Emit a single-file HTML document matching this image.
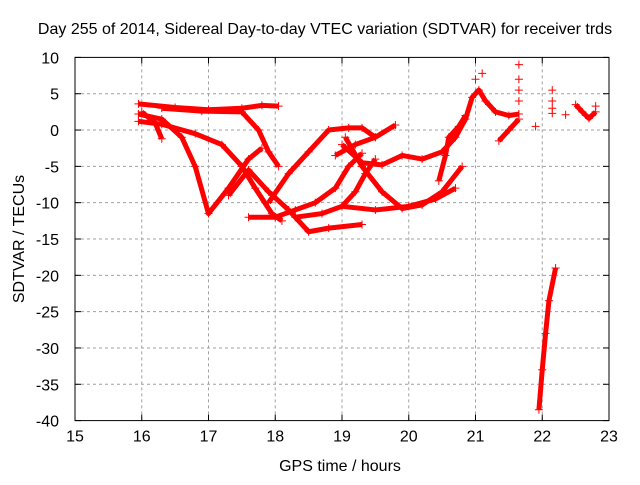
<!DOCTYPE html>
<html><head><meta charset="utf-8"><style>
body{margin:0;background:#fff}
svg text{font-family:"Liberation Sans",sans-serif;font-size:16px;fill:#000}
</style></head><body>
<svg id="c" width="640" height="480" xmlns="http://www.w3.org/2000/svg"></svg>
<script>
const xTicks=[15,16,17,18,19,20,21,22,23];
const yTicks=[10,5,0,-5,-10,-15,-20,-25,-30,-35,-40];
const track1=[[15.95,3.6],[16.5,3.1],[17,2.8],[17.5,3],[17.8,3.4],[18.05,3.3]];
const track2=[[15.95,2.2],[16.3,1.5],[16.6,-1],[16.8,-5],[17,-11.5],[17.3,-8],[17.6,-4],[17.8,-2.5]];
const track3=[[15.95,1.2],[16.3,0.8],[16.8,-0.5],[17.2,-2],[17.5,-5],[17.7,-8],[17.95,-11.5],[18.1,-12.5]];
const track4=[[16.3,3],[16.9,2.6],[17.5,2.5],[17.75,0],[17.9,-3],[18.05,-5]];
const track5=[[16,2.5],[16.2,1],[16.3,-1.2]];
const track6=[[17.3,-9],[17.6,-5.5],[17.9,-8.5],[18.2,-11],[18.5,-14],[18.8,-13.5],[19.3,-13]];
const track7=[[17.6,-12],[18,-12],[18.3,-11],[18.6,-10],[18.9,-8],[19.1,-5],[19.3,-3.2]];
const track8=[[17.9,-10],[18.2,-6],[18.5,-3],[18.8,0],[19.1,0.3],[19.3,0.3],[19.5,-1]];
const track9=[[18.3,-12],[18.7,-11.5],[19,-10.5],[19.2,-8.5],[19.35,-6],[19.5,-4]];
const track10=[[18.9,-3.5],[19.2,-2],[19.5,-1],[19.8,0.7]];
const track11=[[19,-2],[19.3,-4.5],[19.6,-4.8],[19.9,-3.5],[20.2,-4],[20.5,-3],[20.7,-1],[20.85,1.5],[20.95,4.5],[21.05,5.5],[21.15,4],[21.3,2.5],[21.5,2],[21.65,2.2]];
const track12=[[19.05,-1],[19.3,-5],[19.6,-8.5],[19.9,-10.8],[20.2,-10.3],[20.5,-8.5],[20.8,-5]];
const track13=[[19,-10.5],[19.5,-11],[20,-10.5],[20.4,-9.5],[20.7,-8]];
const track14=[[20.45,-7],[20.55,-3.5],[20.6,-1],[20.75,0.5],[20.85,2]];
const track15=[[21.35,-1.5],[21.5,0],[21.65,1.5]];
const track16=[[21.95,-38.5],[22,-33],[22.05,-28],[22.1,-23.5],[22.2,-19]];
const track17=[[22.5,3.5],[22.6,2.5],[22.7,1.6],[22.8,2.5]];
const isolated=[[21.65,9],[21.65,7],[21.65,5.5],[21.65,4],[21.9,0.5],[22.15,5.5],[22.15,4],[22.15,3],[22.15,2.3],[22.35,2.1],[22.8,3.3],[21.1,7.8],[21,7]];
const tracks=[track1,track2,track3,track4,track5,track6,track7,track8,track9,track10,track11,track12,track13,track14,track15,track16,track17];

const L=75,R=609,T=57.4,B=420.6;
const X=v=>L+(v-15)/8*(R-L);
const Y=v=>T+(10-v)/50*(B-T);
const svg=document.getElementById('c');
const NS='http://www.w3.org/2000/svg';
function mk(tag,attrs,parent){const e=document.createElementNS(NS,tag);for(const k in attrs)e.setAttribute(k,attrs[k]);(parent||svg).appendChild(e);return e;}

xTicks.forEach(t=>{
  const x=X(t);
  if(t>15&&t<23){const g=mk('line',{x1:x,x2:x,y1:T,y2:B,stroke:'#a0a0a0','stroke-dasharray':'3,3'});
  
  }
  mk('line',{x1:x,x2:x,y1:B,y2:B-6,stroke:'#000'});
  mk('line',{x1:x,x2:x,y1:T,y2:T+6,stroke:'#000'});
  const tx=mk('text',{x:x,y:B+21,'text-anchor':'middle'});tx.textContent=t;
  
  
});
yTicks.forEach(t=>{
  const y=Y(t);
  if(t<10&&t>-40){const g=mk('line',{x1:L,x2:R,y1:y,y2:y,stroke:'#a0a0a0','stroke-dasharray':'3,3'});
  
  }
  mk('line',{x1:L,x2:L+6,y1:y,y2:y,stroke:'#000'});
  mk('line',{x1:R,x2:R-6,y1:y,y2:y,stroke:'#000'});
  const tx=mk('text',{x:L-16,y:y+6,'text-anchor':'end'});tx.textContent=t;
  
  
});
const frame=mk('rect',{x:L,y:T,width:R-L,height:B-T,fill:'none',stroke:'#000'});



function plus(p,parent){const x=X(p[0]),y=Y(p[1]);
  mk('path',{d:`M${x-4} ${y}H${x+4}M${x} ${y-4}V${y+4}`,stroke:'#f00','stroke-width':1},parent);}
tracks.forEach((tr,i)=>{
  const g=mk('g',{});
  
  
  mk('polyline',{points:tr.map(p=>X(p[0])+','+Y(p[1])).join(' '),fill:'none',stroke:'#f00','stroke-width':5,'stroke-linejoin':'round'},g);
  tr.forEach(p=>plus(p,g));
});
const gi=mk('g',{});


isolated.forEach(p=>plus(p,gi));

const title=mk('text',{x:325,y:34,'text-anchor':'middle'});
title.textContent='Day 255 of 2014, Sidereal Day-to-day VTEC variation (SDTVAR) for receiver trds';


const xl=mk('text',{x:340,y:471,'text-anchor':'middle'});
xl.textContent='GPS time / hours';


const yl=mk('text',{x:0,y:0,'text-anchor':'middle',transform:'translate(24,239) rotate(-90)'});
yl.textContent='SDTVAR / TECUs';


</script>
</body></html>
